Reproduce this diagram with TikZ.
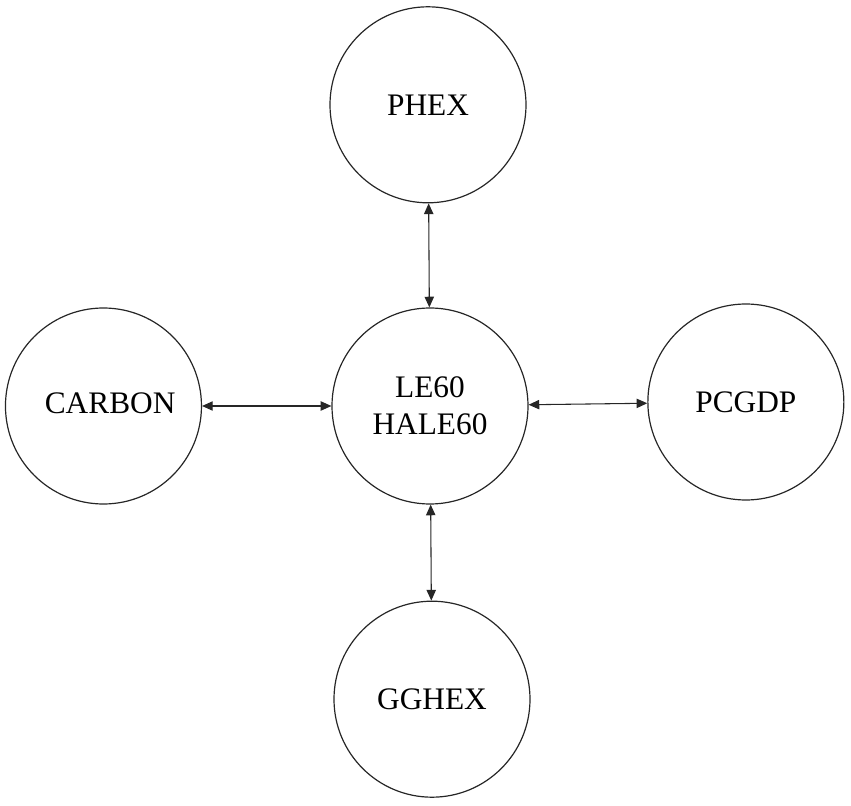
\documentclass[tikz,border=0pt]{standalone}
\usepackage{fontspec}
\setmainfont{Liberation Serif}
\usetikzlibrary{arrows.meta, positioning}

\begin{document}
\begin{tikzpicture}[
    x=0.75pt, y=-0.75pt,
    blob/.style={
      circle, draw=black!85, line width=0.9pt,
      minimum size=147pt, inner sep=0pt,
      font=\fontsize{23.5}{28}\selectfont, align=center
    },
    link/.style={{Triangle[length=8pt,width=7pt]}-{Triangle[length=8pt,width=7pt]}, line width=0.8pt, black!85},
  ]
    \useasboundingbox (0,0) rectangle (851,806);

    % Hub
    \node[blob] (hub) at (430,406) {LE60\\HALE60};

    % Satellites
    \node[blob, above=78pt of hub, xshift=-1.5pt] (phex) {PHEX};
    \node[blob, left=97pt of hub, text depth=4pt] (carbon) {\hspace{10pt}CARBON};
    \node[blob, right=89pt of hub, yshift=3pt] (pcgdp) {PCGDP};
    \node[blob, below=72pt of hub, xshift=1.5pt] (gghex) {GGHEX};

    % Links
    \draw[link] (phex) -- (hub);
    \draw[link] (carbon) -- (hub);
    \draw[link] (hub) -- (pcgdp);
    \draw[link] (hub) -- (gghex);
  \end{tikzpicture}
\end{document}
